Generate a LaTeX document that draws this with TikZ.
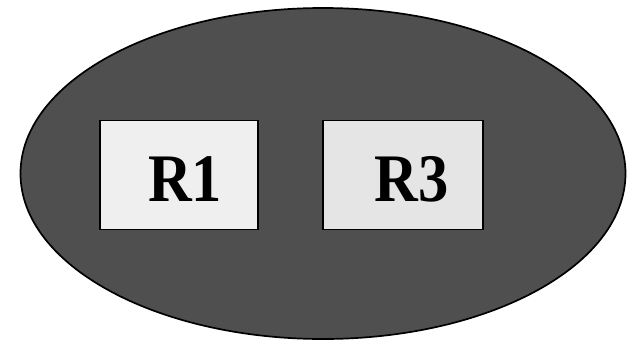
\documentclass[tikz,border=0pt]{standalone}
\usepackage{amsmath}
\usepackage{amssymb}
\usepackage{fontspec}
\setmainfont{Liberation Serif}
\usetikzlibrary{shapes,positioning}

\definecolor{regionfill}{HTML}{4F4F4F}
\definecolor{boxfillA}{HTML}{EFEFEF}
\definecolor{boxfillB}{HTML}{E5E5E5}

\begin{document}
\begin{tikzpicture}[x=1pt,y=-1pt,line width=1.7pt]
  \tikzstyle{region}=[ellipse,draw,fill=regionfill,inner sep=0pt,minimum width=605pt,minimum height=331pt]
  \tikzstyle{rbox}=[rectangle,draw,inner sep=0pt,minimum height=109pt]
  \tikzstyle{rtext}=[inner sep=0pt,font=\fontsize{68}{68}\selectfont\bfseries,xscale=.89,transform shape]

  \useasboundingbox (0,0) rectangle (639,343);

  \node[region] (outer) at (323,173.5) {};

  \foreach \name/\x/\w/\col/\tx/\lbl in {R1/179/158/boxfillA/185/R1, R3/403/160/boxfillB/411.5/R3}
  {
    \node[rbox,minimum width=\w pt,fill=\col] (box-\name) at (\x,175) {};
    \node[rtext] (label-\name) at (\tx,179.5) {\lbl};
  }
\end{tikzpicture}
\end{document}
